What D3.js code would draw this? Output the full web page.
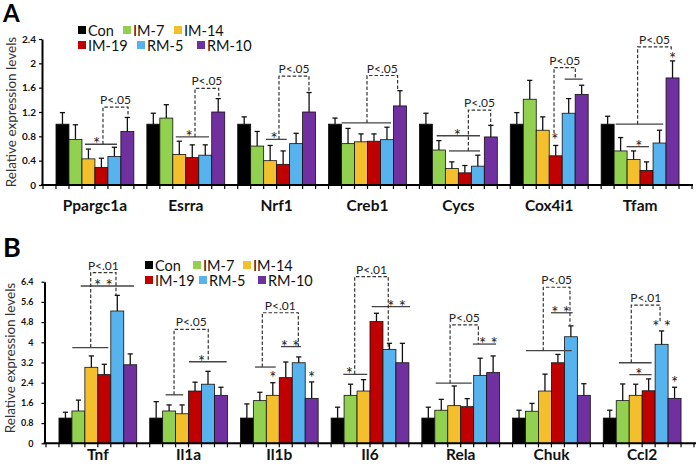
<!DOCTYPE html>
<html><head><meta charset="utf-8">
<script src="https://cdn.jsdelivr.net/npm/d3@7"></script>
<style>
body{margin:0;background:#fff}
svg{display:block}
text{font-family:Lato,"Open Sans",sans-serif}
</style></head><body>
<svg id="c" width="697" height="469"></svg>
<script>
// ---------- DATA ----------
const series = ["Con","IM-7","IM-14","IM-19","RM-5","RM-10"];
const colors = ["#000000","#92D050","#F3BF2C","#C00000","#56B3EE","#7030A0"];

const categoriesA = ["Ppargc1a","Esrra","Nrf1","Creb1","Cycs","Cox4i1","Tfam"];
const conA   = [1.00,1.00,1.00,1.00,1.00,1.00,1.00];
const im7A   = [0.75,1.10,0.64,0.68,0.575,1.41,0.56];
const im14A  = [0.43,0.50,0.40,0.71,0.27,0.90,0.42];
const im19A  = [0.29,0.45,0.34,0.72,0.20,0.48,0.24];
const rm5A   = [0.47,0.49,0.68,0.745,0.31,1.18,0.69];
const rm10A  = [0.88,1.20,1.20,1.30,0.79,1.49,1.76];
const conErrA  = [0.19,0.18,0.12,0.10,0.18,0.19,0.13];
const im7ErrA  = [0.24,0.22,0.24,0.25,0.155,0.31,0.22];
const im14ErrA = [0.16,0.22,0.25,0.13,0.11,0.22,0.14];
const im19ErrA = [0.15,0.21,0.22,0.12,0.12,0.17,0.14];
const rm5ErrA  = [0.15,0.17,0.17,0.205,0.18,0.24,0.21];
const rm10ErrA = [0.23,0.22,0.32,0.25,0.19,0.15,0.28];
const ticksA = [0,0.4,0.8,1.2,1.6,2,2.4];

const categoriesB = ["Tnf","Il1a","Il1b","Il6","Rela","Chuk","Ccl2"];
const conB   = [1.00,1.00,1.00,1.00,1.00,1.00,1.00];
const im7B   = [1.28,1.28,1.69,1.90,1.31,1.27,1.69];
const im14B  = [3.01,1.17,1.90,2.07,1.49,2.07,1.90];
const im19B  = [2.72,2.07,2.60,4.82,1.45,3.19,2.08];
const rm5B   = [5.24,2.34,3.19,3.72,2.69,4.22,3.92];
const rm10B  = [3.11,1.90,1.78,3.19,2.80,1.90,1.78];
const conErrB  = [0.23,0.65,0.56,0.43,0.43,0.31,0.31];
const im7ErrB  = [0.43,0.24,0.33,0.44,0.43,0.31,0.66];
const im14ErrB = [0.45,0.35,0.50,0.45,0.78,0.67,0.44];
const im19ErrB = [0.41,0.35,0.62,0.33,0.32,0.33,0.47];
const rm5ErrB  = [0.62,0.51,0.23,0.24,0.68,0.43,0.53];
const rm10ErrB = [0.43,0.32,0.65,0.77,0.66,0.46,0.44];
const ticksB = [0,0.8,1.6,2.4,3.2,4,4.8,5.6,6.4];

// significance marks: [group, from (bar units), to, value, label, label pos]
const sigLinesA = [
  [0,2.23,4.70,0.67,"*",3.13],
  [1,2.23,4.79,0.79,"*",3.25],
  [2,2.18,3.78,0.75,"*",2.80],
  [3,1.01,4.81,1.02,"",0],
  [4,1.33,4.67,0.81,"*",2.93],
  [4,2.28,4.67,0.56,"",0],
  [5,4.19,5.57,1.74,"",0],
  [6,1.12,4.78,1.00,"",0],
  [6,1.96,3.68,0.63,"*",2.91]
];
// brackets: [group, left, right, left bottom value, top value, right bottom value, label]
const bracketsA = [
  [0,3.62,5.55,0.67,1.28,1.12,"P<.05"],
  [1,3.71,5.54,0.79,1.59,1.43,"P<.05"],
  [2,3.18,5.49,0.75,1.79,1.52,"P<.05"],
  [3,2.96,5.32,1.02,1.80,1.55,"P<.05"],
  [4,3.77,5.49,0.56,1.23,0.98,"P<.05"],
  [5,3.37,5.01,0.85,1.93,1.74,"P<.05"],
  [6,2.81,5.40,1.00,2.27,2.20,"P<.05"]
];
// lone stars: [group, position, value(center), label]
const starsA = [[5,3.44,0.78,"*"],[6,5.5,2.11,"*"]];

const sigLinesB = [
  [0,1.03,3.81,3.79,"",0],
  [0,1.68,5.79,6.23,"**",3.42],
  [1,1.23,2.59,1.92,"",0],
  [1,3.03,5.94,3.23,"*",4.01],
  [2,1.13,2.72,3.02,"",0],
  [2,3.13,4.68,3.83,"**",3.83],
  [3,0.94,2.79,2.73,"*",1.40],
  [3,3.13,6.09,5.41,"**",5.06],
  [4,1.07,3.85,2.38,"",0],
  [4,3.93,5.73,3.93,"**",5.13],
  [5,1.03,4.56,3.67,"",0],
  [5,2.96,4.64,5.17,"**",3.71],
  [6,1.21,3.73,3.19,"",0],
  [6,2.01,3.73,2.72,"*",2.75]
];
const bracketsB = [
  [0,2.45,4.40,3.79,6.76,5.86,"P<.01"],
  [1,1.88,4.52,1.92,4.51,3.23,"P<.05"],
  [2,1.69,4.47,3.02,5.17,3.83,"P<.01"],
  [3,1.82,4.41,2.73,6.60,3.72,"P<.01"],
  [4,2.18,4.36,2.38,4.69,3.93,"P<.05"],
  [5,2.37,4.43,3.67,6.18,4.70,"P<.05"],
  [6,2.16,4.38,3.19,5.47,4.80,"P<.01"]
];
const starsB = [[2,2.5,2.68,"*"],[2,5.5,2.68,"*"],[6,4.5,4.68,"**"],[6,5.5,2.48,"*"]];

// ---------- DRAW ----------
const svg = d3.select("#c");

function starText(g, x, yb, lab){
  g.append("text").attr("x",x).attr("y",yb).attr("text-anchor","middle")
    .attr("font-size",17).attr("fill","#222")
    .text(lab.length>1 ? "* *" : "*");
}

function panel(o){
  const g = svg.append("g");
  const slots = d3.scaleBand().domain(d3.range(50)).range([o.x0,o.x1]).padding(0);
  const step = slots.step();
  const xu = (gi,u) => slots(0) + step*(1+7*gi+u);
  const y = d3.scaleLinear().domain([0,o.yMax]).range([o.yBottom,o.yTop]);

  // bars
  o.vals.forEach((arr,s)=>{
    arr.forEach((v,gi)=>{
      const x = slots(1+7*gi+s);
      g.append("rect").attr("x",x).attr("y",y(v)).attr("width",step).attr("height",y(0)-y(v))
        .attr("fill",colors[s]).attr("stroke","#111").attr("stroke-width",0.8);
      const e = o.errs[s][gi];
      const cx = x+step/2;
      g.append("line").attr("x1",cx).attr("x2",cx).attr("y1",y(v)).attr("y2",y(v+e))
        .attr("stroke","#111").attr("stroke-width",1.3);
      g.append("line").attr("x1",cx-2.6).attr("x2",cx+2.6).attr("y1",y(v+e)).attr("y2",y(v+e))
        .attr("stroke","#111").attr("stroke-width",1.3);
    });
  });

  // x axis
  g.append("line").attr("x1",o.axisX-1).attr("x2",o.axisEnd).attr("y1",y(0)).attr("y2",y(0))
    .attr("stroke","#000").attr("stroke-width",2);
  d3.range(51).forEach(i=>{
    const x = o.x0 + i*step;
    g.append("line").attr("x1",x).attr("x2",x).attr("y1",y(0)).attr("y2",y(0)+4)
      .attr("stroke","#000").attr("stroke-width",1.2);
  });
  // y axis
  const ax = g.append("g").attr("transform",`translate(${o.axisX},0)`)
    .call(d3.axisLeft(y).tickValues(o.ticks).tickSize(3).tickSizeOuter(0).tickPadding(o.tickPad)
      .tickFormat(d=>String(+d.toFixed(1))));
  ax.select(".domain").attr("stroke-width",2);
  ax.selectAll(".tick line").attr("stroke-width",1.2);
  ax.selectAll(".tick text").attr("font-family","Lato, sans-serif").attr("font-weight","bold")
    .attr("font-size",o.tickFont).attr("fill","#111");

  // y title
  g.append("text").attr("transform",`translate(${o.titleX},${o.titleY}) rotate(-90)`)
    .attr("text-anchor","middle").attr("dominant-baseline","central")
    .attr("font-size",13.5).attr("fill","#333")
    .text("Relative expression levels");

  // category labels
  o.cats.forEach((c,gi)=>{
    g.append("text").attr("x",xu(gi,3)).attr("y",o.catY).attr("text-anchor","middle")
      .attr("font-size",15.5).attr("font-weight","bold").attr("fill","#111").text(c);
  });

  // significance lines
  o.lines.forEach(([gi,a,b,v,lab,lp])=>{
    g.append("line").attr("x1",xu(gi,a)).attr("x2",xu(gi,b)).attr("y1",y(v)).attr("y2",y(v))
      .attr("stroke","#444").attr("stroke-width",1.3);
    if(lab) starText(g, xu(gi,lp), y(v)+6, lab);
  });
  // brackets
  o.brackets.forEach(([gi,a,b,v1,vt,v2,lab])=>{
    const p = `M${xu(gi,a)},${y(v1)}V${y(vt)}H${xu(gi,b)}V${y(v2)}`;
    g.append("path").attr("d",p).attr("fill","none").attr("stroke","#333")
      .attr("stroke-width",1.2).attr("stroke-dasharray","3.5,2");
    g.append("text").attr("x",(xu(gi,a)+xu(gi,b))/2).attr("y",y(vt)-3).attr("text-anchor","middle")
      .attr("font-size",12).attr("fill","#222").text(lab);
  });
  // lone stars
  o.stars.forEach(([gi,u,v,lab])=>{
    starText(g, xu(gi,u), y(v)+8, lab);
  });

  // legend
  o.legend.forEach(([s,lx,ly])=>{
    g.append("rect").attr("x",lx).attr("y",ly-4).attr("width",8).attr("height",8).attr("fill",colors[s]);
    g.append("text").attr("x",lx+10).attr("y",ly+5.5).attr("font-size",14.5).attr("fill","#111").text(series[s]);
  });

  // panel letter
  g.append("text").attr("x",o.letterX).attr("y",o.letterY).attr("font-size",o.letterSize)
    .attr("font-weight","bold").attr("fill","#000").text(o.letter);
}

panel({
  cats:categoriesA,
  vals:[conA,im7A,im14A,im19A,rm5A,rm10A],
  errs:[conErrA,im7ErrA,im14ErrA,im19ErrA,rm5ErrA,rm10ErrA],
  yMax:2.4, ticks:ticksA, yTop:39, yBottom:185,
  x0:43, x1:692, axisX:42, axisEnd:693, tickPad:3, tickFont:10,
  titleX:11, titleY:112, catY:211,
  lines:sigLinesA, brackets:bracketsA, stars:starsA,
  legend:[[0,78,30],[1,123,30],[2,174,30],[3,78,45],[4,137,45],[5,197,45]],
  letter:"A", letterX:3, letterY:22, letterSize:24
});
panel({
  cats:categoriesB,
  vals:[conB,im7B,im14B,im19B,rm5B,rm10B],
  errs:[conErrB,im7ErrB,im14ErrB,im19ErrB,rm5ErrB,rm10ErrB],
  yMax:6.4, ticks:ticksB, yTop:281.7, yBottom:443.3,
  x0:46, x1:694, axisX:44.5, axisEnd:696, tickPad:8, tickFont:9,
  titleX:10, titleY:358, catY:460,
  lines:sigLinesB, brackets:bracketsB, stars:starsB,
  legend:[[0,145,265],[1,193,265],[2,243,265],[3,145,280],[4,199,280],[5,258,280]],
  letter:"B", letterX:3, letterY:257, letterSize:27
});
</script>
</body></html>
